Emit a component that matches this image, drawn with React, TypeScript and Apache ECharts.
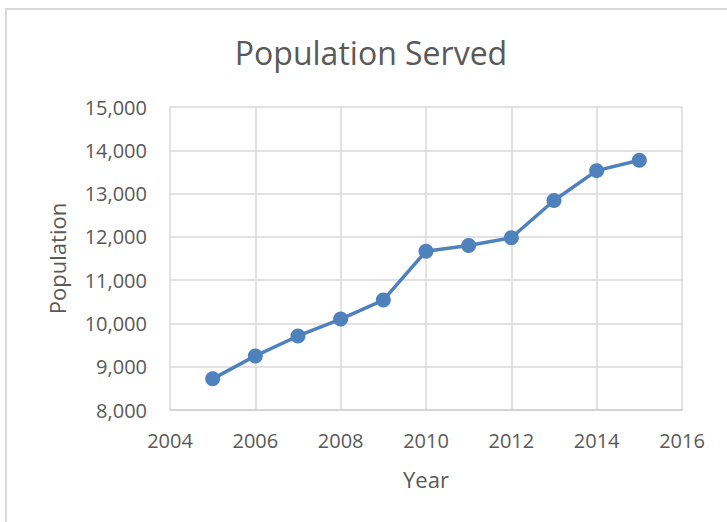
import React, { useEffect, useRef } from "react";
import * as echarts from "echarts";

const years = [2005, 2006, 2007, 2008, 2009, 2010, 2011, 2012, 2013, 2014, 2015];
const population = [8720, 9250, 9710, 10100, 10540, 11670, 11800, 11980, 12840, 13530, 13770];
const titleText = "Population Served";
const xName = "Year";
const yName = "Population";

export default function App() {
  const ref = useRef<HTMLDivElement>(null);
  useEffect(() => {
    if (!ref.current) return;
    const chart = echarts.init(ref.current, null, { renderer: "svg" });
    const font = "'Open Sans', sans-serif";
    const textColor = "#595959";
    chart.setOption({
      animation: false,
      backgroundColor: "#ffffff",
      textStyle: { fontFamily: font },
      graphic: [
        {
          type: "rect",
          shape: { x: 6, y: 9, width: 800, height: 600 },
          style: { fill: "none", stroke: "#d9d9d9", lineWidth: 2 },
          silent: true,
        },
        {
          type: "text",
          x: 371,
          y: 52,
          style: {
            text: titleText,
            fontFamily: font,
            fontSize: 32,
            fill: textColor,
            align: "center",
            verticalAlign: "middle",
          },
        },
      ],
      grid: { left: 170, right: 45, top: 107, bottom: 112, containLabel: false },
      xAxis: {
        type: "value",
        min: 2004,
        max: 2016,
        interval: 2,
        name: xName,
        nameLocation: "middle",
        nameGap: 58,
        nameTextStyle: { fontSize: 22, color: textColor, fontFamily: font },
        axisLine: { show: true, lineStyle: { color: "#d0d0d0", width: 1.5 } },
        axisTick: { show: false },
        axisLabel: { color: textColor, fontSize: 20, margin: 20, fontFamily: font, formatter: (v: number) => String(v) },
        splitLine: { show: true, lineStyle: { color: "#d9d9d9", width: 1.5 } },
      },
      yAxis: {
        type: "value",
        min: 8000,
        max: 15000,
        interval: 1000,
        name: yName,
        nameLocation: "middle",
        nameRotate: 90,
        nameGap: 102,
        nameTextStyle: { fontSize: 22, color: textColor, fontFamily: font },
        axisLine: { show: false },
        axisTick: { show: false },
        axisLabel: {
          color: textColor,
          fontSize: 20,
          margin: 23,
          fontFamily: font,
          formatter: (v: number) => v.toLocaleString("en-US"),
        },
        splitLine: { show: true, lineStyle: { color: "#d9d9d9", width: 1.5 } },
      },
      series: [
        {
          type: "line",
          data: years.map((y, i) => [y, population[i]]),
          symbol: "circle",
          symbolSize: 15,
          lineStyle: { color: "#4F81BD", width: 3.5 },
          itemStyle: { color: "#4F81BD" },
        },
      ],
    });
    return () => chart.dispose();
  }, []);
  return (
    <div
      ref={ref}
      style={{ position: "fixed", left: 0, top: 0, width: 727, height: 522, background: "#fff" }}
    />
  );
}
